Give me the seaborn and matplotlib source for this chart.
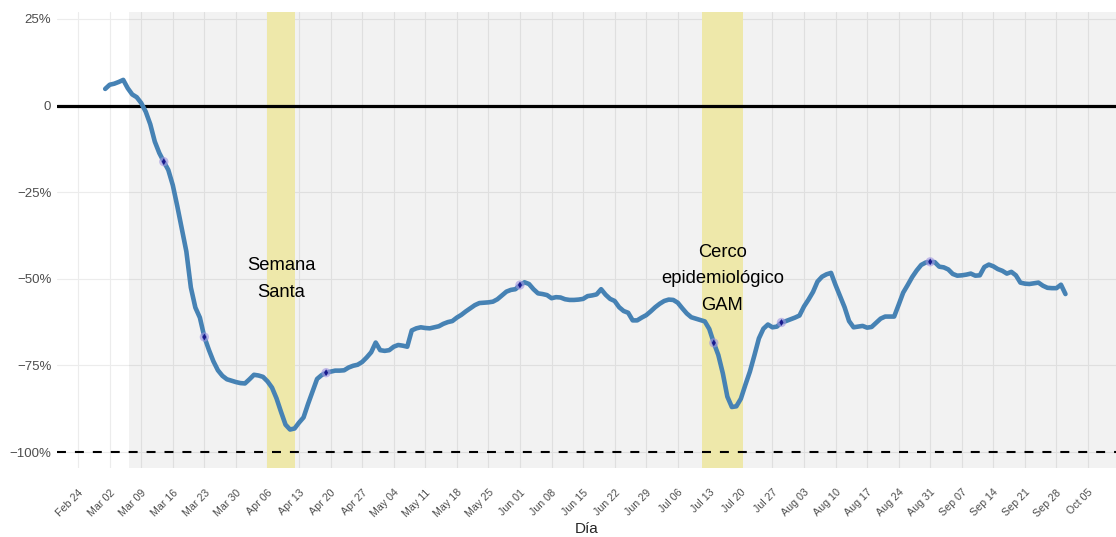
import pandas as pd
import numpy as np
import matplotlib
matplotlib.use('Agg')
import matplotlib.pyplot as plt
import matplotlib.dates as mdates
import seaborn as sns

# movilidad diaria (% de cambio respecto a la línea base), 1 mar - 30 sep 2020
fechas = pd.date_range('2020-03-01', '2020-09-30', freq='D')
cambio = [
    4.8, 6.0, 6.3, 6.8, 7.4, 5.0, 3.2, 2.4, 0.7, -1.8,
    -5.4, -10.4, -13.7, -16.2, -18.6, -23.0, -29.1, -35.6, -42.1, -52.5,
    -58.3, -61.2, -66.8, -70.5, -73.8, -76.4, -78.0, -79.0, -79.4, -79.8,
    -80.1, -80.2, -79.0, -77.7, -77.9, -78.3, -79.6, -81.4, -84.5, -88.4,
    -92.1, -93.5, -93.2, -91.5, -90.0, -86.1, -82.5, -78.9, -77.8, -77.1,
    -76.8, -76.5, -76.5, -76.4, -75.6, -75.1, -74.8, -74.0, -72.7, -71.2,
    -68.4, -70.6, -70.8, -70.6, -69.6, -69.1, -69.3, -69.6, -64.9, -64.3,
    -64.0, -64.2, -64.3, -64.0, -63.7, -63.0, -62.5, -62.2, -61.2, -60.4,
    -59.4, -58.5, -57.6, -57.0, -56.9, -56.8, -56.6, -55.9, -54.8, -53.7,
    -53.2, -53.0, -51.8, -51.0, -51.5, -53.0, -54.2, -54.4, -54.7, -55.6,
    -55.3, -55.4, -55.9, -56.1, -56.1, -56.0, -55.8, -55.0, -54.8, -54.5,
    -53.0, -54.6, -55.8, -56.4, -58.2, -59.3, -59.8, -62.0, -62.0, -61.2,
    -60.5, -59.4, -58.2, -57.2, -56.4, -56.0, -56.1, -56.9, -58.5, -60.0,
    -61.1, -61.5, -61.9, -62.3, -64.5, -68.5, -72.0, -77.3, -84.0, -87.0,
    -86.8, -84.6, -80.6, -76.8, -72.1, -67.2, -64.4, -63.2, -64.0, -63.8,
    -62.6, -62.2, -61.7, -61.2, -60.6, -58.0, -56.0, -53.8, -50.8, -49.4,
    -48.7, -48.3, -51.8, -55.0, -58.2, -62.2, -64.0, -63.8, -63.6, -64.1,
    -63.9, -62.7, -61.5, -60.9, -60.9, -60.9, -57.5, -54.0, -51.8, -49.5,
    -47.6, -46.0, -45.3, -45.1, -45.2, -46.5, -46.7, -47.3, -48.6, -49.1,
    -49.0, -48.8, -48.5, -49.1, -49.0, -46.6, -45.9, -46.4, -47.2, -47.7,
    -48.5, -48.0, -49.0, -51.1, -51.4, -51.5, -51.3, -51.1, -52.0, -52.6,
    -52.7, -52.7, -51.7, -54.4,
]
df = pd.DataFrame({'fecha': fechas, 'cambio': cambio})

# días marcados sobre la serie
eventos = pd.to_datetime(['2020-03-14', '2020-03-23', '2020-04-19', '2020-06-01',
                          '2020-07-14', '2020-07-29', '2020-08-31'])
df_ev = df[df['fecha'].isin(eventos)]

# periodos resaltados
periodos = [('2020-04-06 00:00', '2020-04-12 02:00', 'Semana\nSanta'),
            ('2020-07-11 08:00', '2020-07-20 10:00', 'Cerco\nepidemiológico\nGAM')]
inicio_gris = '2020-03-06 06:00'

sns.set_theme(style='white')
plt.rcParams['font.family'] = ['Liberation Sans', 'DejaVu Sans']

fig = plt.figure(figsize=(11.16, 5.37), dpi=100)
ax = fig.add_axes([0.051, 0.1285, 0.949, 0.8492])

ax.axvspan(pd.Timestamp(inicio_gris), pd.Timestamp('2020-12-31'), color='black', alpha=0.05, lw=0, zorder=1)
for ini, fin, txt in periodos:
    a, b = pd.Timestamp(ini), pd.Timestamp(fin)
    ax.axvspan(a, b, color='#eee8aa', lw=0, zorder=2)
    ax.text(a + (b - a) / 2, -50, txt, ha='center', va='center', fontsize=13.2,
            linespacing=1.75, color='black', zorder=6)

ax.axhline(0, color='black', lw=2.3, zorder=3)
ax.axhline(-100, color='black', lw=1.5, ls=(0, (4.3, 4.3)), zorder=3)

sns.lineplot(data=df, x='fecha', y='cambio', ax=ax, color='steelblue', lw=3.3, zorder=4)
sns.scatterplot(data=df_ev, x='fecha', y='cambio', ax=ax, color='#9f94e0', alpha=0.6,
                s=45, edgecolor='none', zorder=5)
sns.scatterplot(data=df_ev, x='fecha', y='cambio', ax=ax, color='#1a1a8c', marker='d',
                s=12, edgecolor='none', zorder=5)

ax.set_xlim(pd.Timestamp('2020-02-19 07:00'), pd.Timestamp('2020-10-11 05:00'))
ax.set_ylim(-104.6, 27)
ax.set_yticks([25, 0, -25, -50, -75, -100])
ax.set_yticklabels(['25%', '0', '\u221225%', '\u221250%', '\u221275%', '\u2212100%'])
ax.xaxis.set_major_locator(mdates.WeekdayLocator(byweekday=mdates.MO))
ax.xaxis.set_major_formatter(mdates.DateFormatter('%b %d'))
plt.setp(ax.get_xticklabels(), rotation=45, ha='right', rotation_mode='anchor')

ax.tick_params(axis='y', labelsize=9.5, labelcolor='#4d4d4d', length=0, pad=4)
ax.tick_params(axis='x', labelsize=7.7, labelcolor='#4d4d4d', length=0, pad=14)
ax.grid(True, color='#ececec', lw=0.8, zorder=0)
ax.set_axisbelow(True)
for s in ax.spines.values():
    s.set_visible(False)

ax.set_xlabel('Día', fontsize=11, labelpad=2)
ax.set_ylabel('')

fig.savefig('out.png', dpi=100)
